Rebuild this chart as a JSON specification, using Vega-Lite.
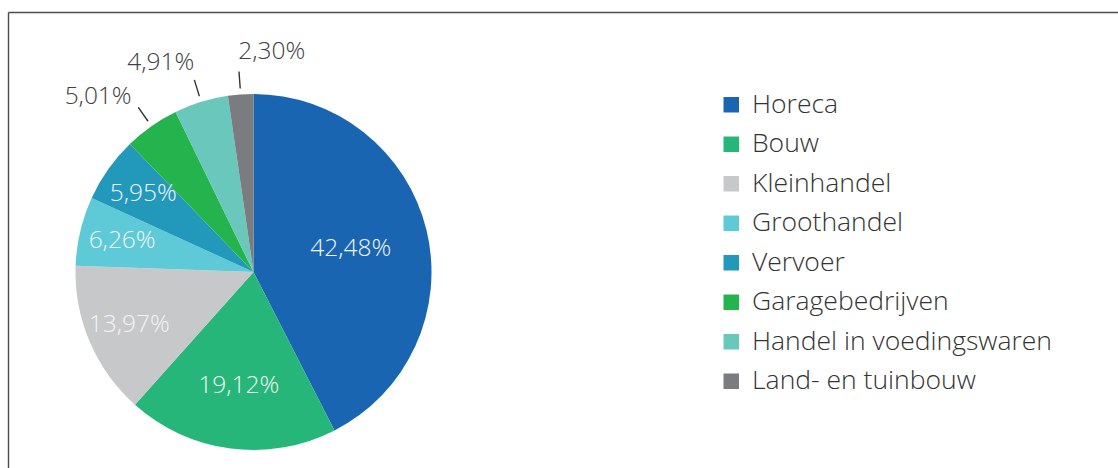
{
  "$schema": "https://vega.github.io/schema/vega-lite/v6.json",
  "width": 1120,
  "height": 470,
  "autosize": {"type": "none"},
  "padding": {"left": 8.5, "top": 12.5, "right": -10.5, "bottom": -14.5},
  "background": "#ffffff",
  "config": {
    "view": {"stroke": null},
    "font": "Open Sans",
    "text": {"font": "Open Sans", "fontWeight": 300}
  },
  "data": {
    "values": [
      {"Sector": "Horeca", "Percent": 42.48, "Label": "42,48%"},
      {"Sector": "Bouw", "Percent": 19.12, "Label": "19,12%"},
      {"Sector": "Kleinhandel", "Percent": 13.97, "Label": "13,97%"},
      {"Sector": "Groothandel", "Percent": 6.26, "Label": "6,26%"},
      {"Sector": "Vervoer", "Percent": 5.95, "Label": "5,95%"},
      {"Sector": "Garagebedrijven", "Percent": 5.01, "Label": "5,01%"},
      {"Sector": "Handel in voedingswaren", "Percent": 4.91, "Label": "4,91%"},
      {"Sector": "Land- en tuinbouw", "Percent": 2.30, "Label": "2,30%"}
    ]
  },
  "layer": [
    {
      "data": {"values": [{"frame": "top"}]},
      "mark": {"type": "rule", "stroke": "#4d4d4d", "strokeWidth": 1.4},
      "encoding": {"y": {"value": 0}}
    },
    {
      "data": {"values": [{"frame": "left"}]},
      "mark": {"type": "rule", "stroke": "#4d4d4d", "strokeWidth": 1.4},
      "encoding": {"x": {"value": 0}}
    },
    {
      "encoding": {
        "theta": {"field": "Percent", "type": "quantitative", "stack": true},
        "order": {"field": "Percent", "type": "quantitative", "sort": "descending"}
      },
      "layer": [
        {
          "mark": {"type": "arc", "outerRadius": 178, "x": 245, "y": 259.5, "strokeWidth": 0},
          "encoding": {
            "color": {
              "field": "Sector",
              "type": "nominal",
              "scale": {
                "domain": ["Horeca", "Bouw", "Kleinhandel", "Groothandel", "Vervoer", "Garagebedrijven", "Handel in voedingswaren", "Land- en tuinbouw"],
                "range": ["#1a65b1", "#26b67a", "#c7c8ca", "#5ecad8", "#2299bb", "#25b34d", "#69c7bc", "#7b7c80"]
              },
              "legend": {
                "title": null,
                "orient": "none",
                "legendX": 709.5,
                "legendY": 79,
                "symbolType": "square",
                "symbolSize": 240,
                "symbolStrokeWidth": 0,
                "labelFont": "Open Sans",
                "labelFontWeight": 300,
                "labelFontSize": 26.5,
                "labelColor": "#333333",
                "labelOffset": 7.5,
                "rowPadding": 12.5,
                "labelLimit": 0
              }
            }
          }
        },
        {
          "mark": {"type": "arc", "innerRadius": 184, "outerRadius": 201, "padAngle": 3, "x": 245, "y": 259.5, "fill": "transparent", "strokeWidth": 1.4},
          "encoding": {
            "stroke": {"condition": {"test": "datum.Percent < 5.5", "value": "#333333"}, "value": "transparent"}
          }
        },
        {
          "mark": {"type": "text", "radius": 100, "x": 245, "y": 259.5, "fill": "#f4f4f4", "fontSize": 24.5, "baseline": "middle"},
          "encoding": {
            "text": {"condition": {"test": "datum.Sector === 'Horeca'", "field": "Label", "type": "nominal"}, "value": ""}
          }
        },
        {
          "mark": {"type": "text", "radius": 115, "x": 245, "y": 259.5, "fill": "#f4f4f4", "fontSize": 24.5, "baseline": "middle"},
          "encoding": {
            "text": {"condition": {"test": "datum.Sector === 'Bouw'", "field": "Label", "type": "nominal"}, "value": ""}
          }
        },
        {
          "mark": {"type": "text", "radius": 135, "x": 245, "y": 259.5, "fill": "#f4f4f4", "fontSize": 24.5, "baseline": "middle"},
          "encoding": {
            "text": {"condition": {"test": "datum.Sector === 'Kleinhandel' || datum.Sector === 'Groothandel' || datum.Sector === 'Vervoer'", "field": "Label", "type": "nominal"}, "value": ""}
          }
        },
        {
          "mark": {"type": "text", "radius": 210, "x": 245, "y": 259.5, "fill": "#404040", "fontSize": 24.5, "baseline": "middle", "dx": -35, "dy": -3},
          "encoding": {
            "text": {"condition": {"test": "datum.Sector === 'Garagebedrijven'", "field": "Label", "type": "nominal"}, "value": ""}
          }
        },
        {
          "mark": {"type": "text", "radius": 210, "x": 245, "y": 259.5, "fill": "#404040", "fontSize": 24.5, "baseline": "middle", "dx": -31, "dy": -8},
          "encoding": {
            "text": {"condition": {"test": "datum.Sector === 'Handel in voedingswaren'", "field": "Label", "type": "nominal"}, "value": ""}
          }
        },
        {
          "mark": {"type": "text", "radius": 210, "x": 245, "y": 259.5, "fill": "#404040", "fontSize": 24.5, "baseline": "middle", "dx": 33.5, "dy": -11},
          "encoding": {
            "text": {"condition": {"test": "datum.Sector === 'Land- en tuinbouw'", "field": "Label", "type": "nominal"}, "value": ""}
          }
        }
      ]
    }
  ]
}
